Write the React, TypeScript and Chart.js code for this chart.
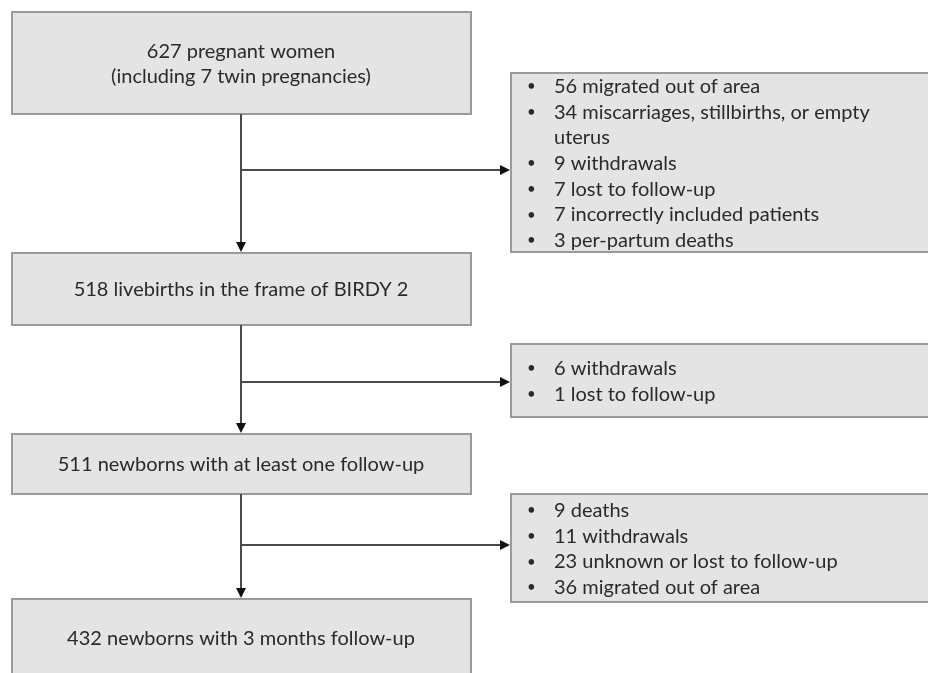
import React, { useEffect, useRef } from "react";
import { Chart, registerables } from "chart.js";

Chart.register(...registerables);

// ---- content (data) ----
const stageLabels: string[] = [
  "627 pregnant women\n(including 7 twin pregnancies)",
  "518 livebirths in the frame of BIRDY 2",
  "511 newborns with at least one follow-up",
  "432 newborns with 3 months follow-up",
];

const exclusionsStage1: string[] = [
  "56 migrated out of area",
  "34 miscarriages, stillbirths, or empty uterus",
  "9 withdrawals",
  "7 lost to follow-up",
  "7 incorrectly included patients",
  "3 per-partum deaths",
];

const exclusionsStage2: string[] = ["6 withdrawals", "1 lost to follow-up"];

const exclusionsStage3: string[] = [
  "9 deaths",
  "11 withdrawals",
  "23 unknown or lost to follow-up",
  "36 migrated out of area",
];

const exclusionLists: string[][] = [exclusionsStage1, exclusionsStage2, exclusionsStage3];

// ---- layout (in chart value units, 0..928 x 0..673) ----
const STAGE_BOXES = [
  { x0: 12, x1: 471, y0: 12, y1: 114 },
  { x0: 12, x1: 471, y0: 253, y1: 325 },
  { x0: 12, x1: 471, y0: 434, y1: 494 },
  { x0: 12, x1: 471, y0: 599, y1: 690 },
];
const EXCL_BOXES = [
  { x0: 511, x1: 940, y0: 73, y1: 252, branchY: 170 },
  { x0: 511, x1: 940, y0: 344, y1: 417, branchY: 382 },
  { x0: 511, x1: 940, y0: 494, y1: 602, branchY: 545 },
];
const SPINE_X = 241;

const FONT = "20px Lato, 'Noto Sans', sans-serif";
const LINE_H = 25.7;
const TEXT_COLOR = "#2a2a2a";
const BOX_FILL = "#e4e4e4";
const BOX_STROKE = "#9a9a9a";
const LINE_COLOR = "#4a4a4a";

function wrap(ctx: CanvasRenderingContext2D, text: string, maxW: number): string[] {
  const words = text.split(" ");
  const out: string[] = [];
  let cur = "";
  for (const w of words) {
    const t = cur ? cur + " " + w : w;
    if (ctx.measureText(t).width > maxW && cur) {
      out.push(cur);
      cur = w;
    } else cur = t;
  }
  if (cur) out.push(cur);
  return out;
}

const flowPlugin = {
  id: "flow",
  beforeDatasetsDraw(chart: any) {
    const { ctx, scales } = chart;
    const X = (v: number) => scales.x.getPixelForValue(v);
    const Y = (v: number) => scales.y.getPixelForValue(v);
    ctx.save();
    const all = [...STAGE_BOXES, ...EXCL_BOXES];
    for (const b of all) {
      const x = X(b.x0), y = Y(b.y0), w = X(b.x1) - x, h = Y(b.y1) - y;
      ctx.fillStyle = BOX_FILL;
      ctx.fillRect(x, y, w, h);
      ctx.strokeStyle = BOX_STROKE;
      ctx.lineWidth = 2;
      ctx.strokeRect(x, y, w, h);
    }
    ctx.restore();
  },
  afterDatasetsDraw(chart: any) {
    const { ctx, scales } = chart;
    const X = (v: number) => scales.x.getPixelForValue(v);
    const Y = (v: number) => scales.y.getPixelForValue(v);
    ctx.save();
    // arrowheads
    ctx.fillStyle = "#111";
    const down = (x: number, y: number) => {
      ctx.beginPath();
      ctx.moveTo(x - 5, y - 10);
      ctx.lineTo(x + 5, y - 10);
      ctx.lineTo(x, y);
      ctx.closePath();
      ctx.fill();
    };
    const right = (x: number, y: number) => {
      ctx.beginPath();
      ctx.moveTo(x - 10, y - 5);
      ctx.lineTo(x - 10, y + 5);
      ctx.lineTo(x, y);
      ctx.closePath();
      ctx.fill();
    };
    for (let i = 1; i < STAGE_BOXES.length; i++) down(X(SPINE_X), Y(STAGE_BOXES[i].y0) - 1);
    for (const b of EXCL_BOXES) right(X(b.x0) - 1, Y(b.branchY));

    // stage texts
    ctx.font = FONT;
    ctx.fillStyle = TEXT_COLOR;
    ctx.textBaseline = "middle";
    ctx.textAlign = "center";
    stageLabels.forEach((label, i) => {
      const b = STAGE_BOXES[i];
      const lines = label.split("\n");
      const cy = (i === STAGE_BOXES.length - 1 ? Y(638) : (Y(b.y0) + Y(b.y1)) / 2) + 1;
      lines.forEach((ln, k) => {
        ctx.fillText(ln, X(SPINE_X), cy + (k - (lines.length - 1) / 2) * LINE_H);
      });
    });

    // exclusion lists
    ctx.textAlign = "left";
    exclusionLists.forEach((items, i) => {
      const b = EXCL_BOXES[i];
      const rows: { bullet: boolean; text: string }[] = [];
      items.forEach((it) => {
        wrap(ctx, it, 340).forEach((ln, k) => rows.push({ bullet: k === 0, text: ln }));
      });
      const cy = (Y(b.y0) + Y(b.y1)) / 2 + 1;
      rows.forEach((r, k) => {
        const y = cy + (k - (rows.length - 1) / 2) * LINE_H;
        if (r.bullet) {
          ctx.save();
          ctx.font = "15px Lato, sans-serif";
          ctx.fillText("•", X(b.x0) + 16, y);
          ctx.restore();
        }
        ctx.fillText(r.text, X(b.x0) + 43, y);
      });
    });
    ctx.restore();
  },
};

export default function App() {
  const ref = useRef<HTMLCanvasElement | null>(null);
  useEffect(() => {
    document.body.style.margin = "0";
    if (!ref.current) return;
    const seg = (pts: { x: number; y: number }[]) => ({
      type: "line" as const,
      data: pts,
      showLine: true,
      borderColor: LINE_COLOR,
      borderWidth: 2,
      pointRadius: 0,
      fill: false,
    });
    const datasets: any[] = [];
    for (let i = 0; i < STAGE_BOXES.length - 1; i++) {
      datasets.push(seg([
        { x: SPINE_X, y: STAGE_BOXES[i].y1 },
        { x: SPINE_X, y: STAGE_BOXES[i + 1].y0 - 8 },
      ]));
      const e = EXCL_BOXES[i];
      datasets.push(seg([
        { x: SPINE_X, y: e.branchY },
        { x: e.x0 - 8, y: e.branchY },
      ]));
    }
    const chart = new Chart(ref.current, {
      type: "scatter",
      data: { datasets },
      options: {
        animation: false,
        responsive: false,
        events: [],
        layout: { padding: 0 },
        plugins: { legend: { display: false }, tooltip: { enabled: false } },
        scales: {
          x: { type: "linear", min: 0, max: 928, display: false },
          y: { type: "linear", min: 0, max: 673, reverse: true, display: false },
        },
      },
      plugins: [flowPlugin],
    });
    return () => chart.destroy();
  }, []);
  return (
    <div style={{ position: "absolute", left: 0, top: 0, width: 928, height: 673, background: "#fff", overflow: "hidden" }}>
      <canvas ref={ref} width={928} height={673} />
    </div>
  );
}
